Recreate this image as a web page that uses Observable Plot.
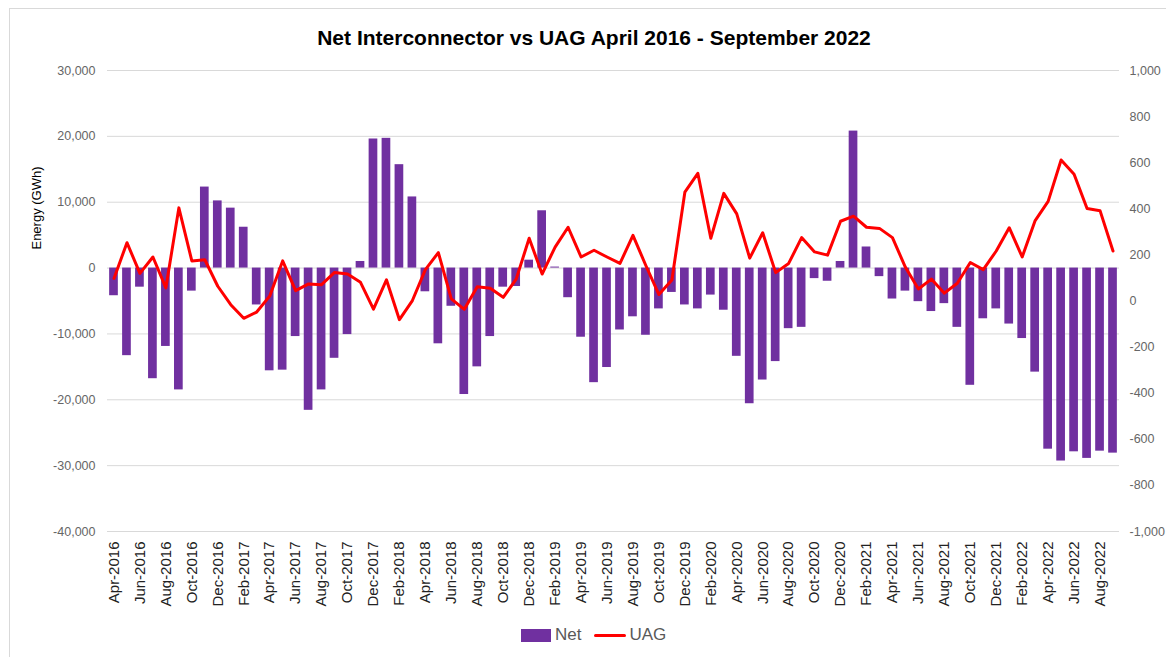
<!DOCTYPE html>
<html>
<head>
<meta charset="utf-8">
<script src="https://cdn.jsdelivr.net/npm/d3@7"></script>
<script src="https://cdn.jsdelivr.net/npm/@observablehq/plot@0.6"></script>
<style>
  html, body { margin: 0; padding: 0; background: #fff; width: 1166px; height: 657px; overflow: hidden; }
  body { position: relative; font-family: "Liberation Sans", Arial, sans-serif; }
  #frame { position: absolute; left: 9px; top: 8px; width: 1200px; height: 700px; border: 1px solid #d9d9d9; box-sizing: border-box; }
  #title { position: absolute; left: 11px; top: 25px; width: 1166px; text-align: center; font-size: 21px; font-weight: bold; color: #000; line-height: 26px; }
  #ylabel { position: absolute; left: 36px; top: 208px; transform: translate(-50%, -50%) rotate(-90deg); white-space: nowrap; font-size: 13px; color: #000; }
  #chart { position: absolute; left: 0; top: 55px; }
  #legend { position: absolute; left: 521px; top: 624px; height: 22px; display: flex; align-items: center; font-size: 17px; color: #595959; }
  .sw { display: inline-block; width: 30px; height: 13px; background: #7030A0; margin-right: 4px; }
  .ln { display: inline-block; width: 32px; height: 3px; background: #ff0000; border-radius: 2px; margin-left: 13px; margin-right: 3px; }
</style>
</head>
<body>
<div id="frame"></div>
<div id="title">Net Interconnector vs UAG April 2016 - September 2022</div>
<div id="ylabel">Energy (GWh)</div>
<div id="chart"></div>
<div id="legend"><span class="sw"></span><span>Net</span><span class="ln"></span><span>UAG</span></div>
<script>
const months = [
  "Apr-2016","May-2016","Jun-2016","Jul-2016","Aug-2016","Sep-2016","Oct-2016","Nov-2016","Dec-2016",
  "Jan-2017","Feb-2017","Mar-2017","Apr-2017","May-2017","Jun-2017","Jul-2017","Aug-2017","Sep-2017","Oct-2017","Nov-2017","Dec-2017",
  "Jan-2018","Feb-2018","Mar-2018","Apr-2018","May-2018","Jun-2018","Jul-2018","Aug-2018","Sep-2018","Oct-2018","Nov-2018","Dec-2018",
  "Jan-2019","Feb-2019","Mar-2019","Apr-2019","May-2019","Jun-2019","Jul-2019","Aug-2019","Sep-2019","Oct-2019","Nov-2019","Dec-2019",
  "Jan-2020","Feb-2020","Mar-2020","Apr-2020","May-2020","Jun-2020","Jul-2020","Aug-2020","Sep-2020","Oct-2020","Nov-2020","Dec-2020",
  "Jan-2021","Feb-2021","Mar-2021","Apr-2021","May-2021","Jun-2021","Jul-2021","Aug-2021","Sep-2021","Oct-2021","Nov-2021","Dec-2021",
  "Jan-2022","Feb-2022","Mar-2022","Apr-2022","May-2022","Jun-2022","Jul-2022","Aug-2022","Sep-2022"
];

// Net interconnector flow (GWh), left axis
const net = [
  -4200,-13300,-2900,-16800,-11900,-18500,-3500,12300,10200,9100,
  6200,-5600,-15600,-15500,-10400,-21600,-18500,-13700,-10100,1000,
  19600,19700,15700,10800,-3600,-11500,-5800,-19200,-15000,-10400,
  -2900,-2800,1200,8700,150,-4500,-10500,-17400,-15100,-9400,
  -7400,-10200,-6200,-3700,-5600,-6200,-4100,-6400,-13400,-20600,
  -17000,-14200,-9200,-9000,-1600,-2000,1000,20800,3200,-1300,
  -4700,-3500,-5100,-6600,-5400,-9000,-17800,-7700,-6200,-8500,
  -10700,-15800,-27500,-29300,-27900,-28900,-27800,-28100
];

// UAG (GWh), right axis
const uag = [
  98,253,120,191,57,404,174,179,64,-16,
  -75,-48,21,174,45,74,71,124,117,81,
  -35,92,-81,2,136,210,9,-36,62,55,
  16,95,272,117,234,320,191,220,191,163,
  285,153,28,91,472,554,272,467,378,186,
  296,123,163,275,213,199,346,368,320,315,
  275,146,52,95,34,77,167,136,217,318,
  191,349,432,612,550,401,392,217
];

const leftTicks = [30000,20000,10000,0,-10000,-20000,-30000,-40000];
const rightTicks = [1000,800,600,400,200,0,-200,-400,-600,-800,-1000];
const xTickLabels = months.filter((m, i) => i % 2 === 0);

// right axis maps [-1000, 1000] onto left [-40000, 30000]
const toLeft = v => -5000 + 35 * v;
const fromLeft = v => (v + 5000) / 35;
const fmt = v => (v < 0 ? "-" : "") + d3.format(",")(Math.abs(Math.round(v)));

const data = months.map((m, i) => ({month: m, net: net[i], uag: uag[i]}));

const chart = Plot.plot({
  width: 1166,
  height: 560,
  marginLeft: 107,
  marginRight: 47,
  marginTop: 15,
  marginBottom: 84,
  style: {fontFamily: "'Liberation Sans', Arial, sans-serif", background: "transparent", overflow: "visible"},
  x: {type: "band", domain: months, paddingInner: 0.33, paddingOuter: 0.165},
  y: {domain: [-40000, 30000]},
  marks: [
    Plot.gridY(leftTicks, {stroke: "#d9d9d9", strokeOpacity: 1, strokeWidth: 1}),
    Plot.barY(data, {x: "month", y: "net", fill: "#7030A0"}),
    Plot.line(data, {x: "month", y: d => toLeft(d.uag), stroke: "#ff0000", strokeWidth: 3, strokeLinejoin: "round", strokeLinecap: "round"}),
    Plot.axisY(leftTicks, {anchor: "left", tickSize: 0, tickPadding: 12, tickFormat: fmt, fontSize: 12.5, color: "#666", label: null}),
    Plot.axisY(rightTicks.map(toLeft), {anchor: "right", tickSize: 0, tickPadding: 10, tickFormat: v => fmt(fromLeft(v)), fontSize: 12.5, color: "#666", label: null}),
    Plot.axisX(xTickLabels, {anchor: "bottom", tickSize: 0, tickPadding: 10, tickRotate: -90, fontSize: 15, color: "#222", label: null})
  ]
});
document.getElementById("chart").appendChild(chart);
</script>
</body>
</html>
